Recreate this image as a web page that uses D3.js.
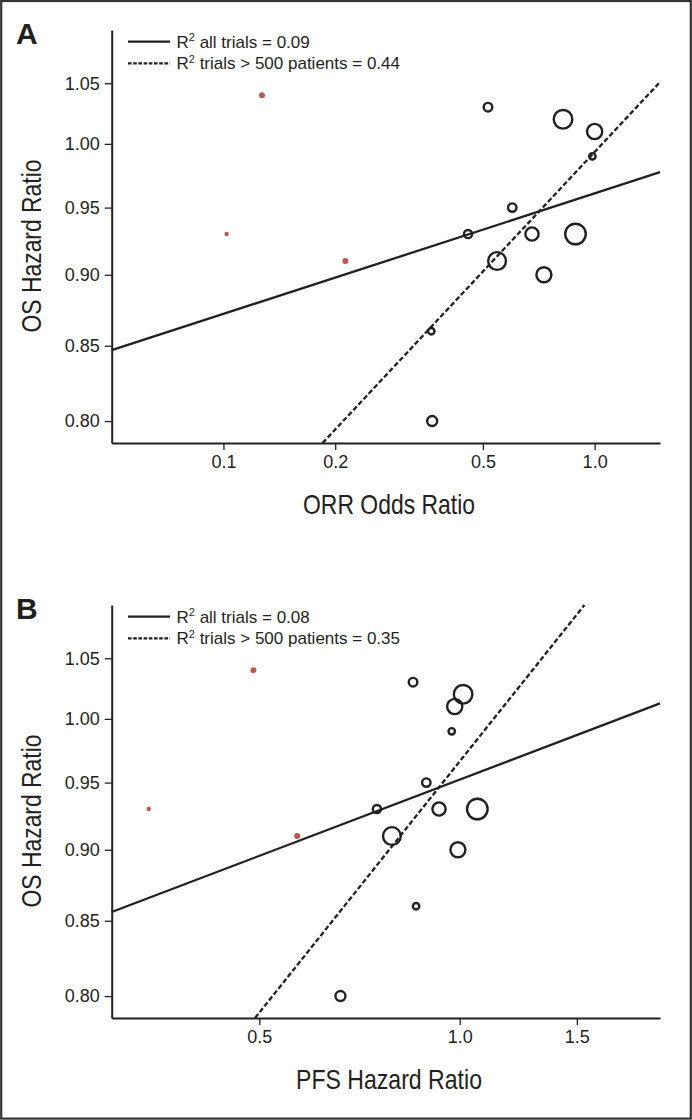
<!DOCTYPE html>
<html lang="en">
<head>
<meta charset="UTF-8">
<title>OS vs ORR / PFS</title>
<script src="https://cdnjs.cloudflare.com/ajax/libs/d3/7.8.5/d3.min.js"></script>
<style>
  body { margin: 0; background: #fff; }
  svg { display: block; }
</style>
</head>
<body>
<svg id="chart"></svg>
<script>
// trials > 500 patients (open circles)
var osHR     = [1.03, 1.02, 1.01, 0.99, 0.95, 0.93, 0.93, 0.93, 0.91, 0.90, 0.86, 0.80]
var orrOR    = [0.516, 0.822, 1.00, 0.986, 0.600, 0.456, 0.678, 0.888, 0.546, 0.730, 0.363, 0.365]
var pfsHR    = [0.851, 1.012, 0.983, 0.973, 0.891, 0.751, 0.931, 1.063, 0.791, 0.994, 0.860, 0.662]
var patients = [990, 4650, 3100, 550, 950, 900, 2340, 5700, 4250, 3020, 550, 1340]

// smaller trials (filled red)
var smallOS       = [1.04, 0.93, 0.91]
var smallORR      = [0.127, 0.102, 0.213]
var smallPFS      = [0.490, 0.341, 0.570]
var smallPatients = [480, 260, 480]

// regression lines, end points in data units [x, OS HR]
var fitAllA   = [[0.05, 0.847], [1.5, 0.9775]]
var fitLargeA = [[0.185, 0.786], [1.5, 1.051]]
var fitAllB   = [[0.3, 0.856], [2.0, 1.0125]]
var fitLargeB = [[0.4926, 0.786], [1.54, 1.096]]

var xTicksA = [0.1, 0.2, 0.5, 1.0]
var xTicksB = [0.5, 1.0, 1.5]
var yTicks  = [0.80, 0.85, 0.90, 0.95, 1.00, 1.05]

var W = 692, H = 1120
var ink = "#231f20", red = "#b85a4e"
var tickFont = "'Liberation Sans', Arial, sans-serif"

var svg = d3.select("#chart").attr("width", W).attr("height", H)

svg.append("rect")
  .attr("x", 1.2).attr("y", 1).attr("width", W - 2.4).attr("height", H - 2.4)
  .attr("fill", "none").attr("stroke", "#333").attr("stroke-width", 2.2)

var rScale = d3.scaleSqrt().domain([0, 6000]).range([0, 10.57])

// condensed look: squeeze a regular face to the measured width
function titleText(sel, str, width) {
  return sel.text(str)
    .attr("text-anchor", "middle")
    .attr("font-family", tickFont).attr("font-size", 28).attr("fill", ink)
    .attr("textLength", width).attr("lengthAdjust", "spacingAndGlyphs")
}

function drawPanel(p) {
  var g = svg.append("g").attr("transform", "translate(0," + p.dy + ")")
  var left = 111.7, right = 660, top = 30, bottom = 443

  var x = d3.scaleLog().domain(p.xDomain).range([left, right])
  var y = d3.scaleLog().domain([0.786, 1.096]).range([bottom, top])

  g.append("text").text(p.letter)
    .attr("x", 16).attr("y", 43.5)
    .attr("font-family", tickFont).attr("font-weight", "bold")
    .attr("font-size", 30).attr("fill", ink)

  var yAxis = g.append("g").attr("transform", "translate(" + left + ",0)")
    .call(d3.axisLeft(y).tickValues(yTicks).tickFormat(d3.format(".2f")).tickSize(7).tickSizeOuter(0))
  var xAxis = g.append("g").attr("transform", "translate(0," + bottom + ")")
    .call(d3.axisBottom(x).tickValues(p.xTicks).tickFormat(d3.format(".1f")).tickSize(7).tickSizeOuter(0))

  ;[yAxis, xAxis].forEach(function(a) {
    a.select(".domain").attr("stroke", ink).attr("stroke-width", 2)
    a.selectAll(".tick line").attr("stroke", ink).attr("stroke-width", 1.3)
    a.selectAll(".tick text").attr("font-family", tickFont).attr("font-size", 18).attr("fill", ink)
  })
  yAxis.selectAll(".tick text").attr("x", -12)
  xAxis.selectAll(".tick text").attr("y", 12)

  titleText(g.append("text"), p.xTitle, p.xTitleW)
    .attr("x", 389).attr("y", 514)

  titleText(g.append("text"), "OS Hazard Ratio", 173)
    .attr("transform", "translate(41,246) rotate(-90)")

  // legend
  var leg = g.append("g")
  var rows = [{ text: " all trials = " + p.r2All, dash: null },
              { text: " trials > 500 patients = " + p.r2Large, dash: "3.6,1.6" }]
  rows.forEach(function(r, i) {
    var ly = 41.7 + i * 21.6
    leg.append("line")
      .attr("x1", 128).attr("x2", 170).attr("y1", ly).attr("y2", ly)
      .attr("stroke", ink).attr("stroke-width", 2.3)
      .attr("stroke-dasharray", r.dash)
    var t = leg.append("text")
      .attr("x", 176.5).attr("y", ly + 6)
      .attr("font-family", tickFont).attr("font-size", 17).attr("fill", ink)
    t.append("tspan").text("R")
    t.append("tspan").text("2").attr("font-size", 11).attr("dy", -6.5)
    t.append("tspan").text(r.text).attr("dy", 6.5)
  })

  var line = d3.line().x(function(d) { return x(d[0]) }).y(function(d) { return y(d[1]) })

  g.append("path").datum(p.fitAll).attr("d", line)
    .attr("fill", "none").attr("stroke", ink).attr("stroke-width", 2.3)
  g.append("path").datum(p.fitLarge).attr("d", line)
    .attr("fill", "none").attr("stroke", ink).attr("stroke-width", 2.3)
    .attr("stroke-dasharray", "5,2.5")

  var big = osHR.map(function(v, i) { return { x: p.xs[i], y: v, n: patients[i] } })
  g.selectAll("circle.big").data(big).enter().append("circle")
    .attr("class", "big")
    .attr("cx", function(d) { return x(d.x) })
    .attr("cy", function(d) { return y(d.y) })
    .attr("r", function(d) { return rScale(d.n) })
    .attr("fill", "none").attr("stroke", ink).attr("stroke-width", 2.4)

  var small = smallOS.map(function(v, i) { return { x: p.smallXs[i], y: v, n: smallPatients[i] } })
  g.selectAll("circle.small").data(small).enter().append("circle")
    .attr("class", "small")
    .attr("cx", function(d) { return x(d.x) })
    .attr("cy", function(d) { return y(d.y) })
    .attr("r", function(d) { return rScale(d.n) })
    .attr("fill", red)
}

drawPanel({ dy: 0, letter: "A", xDomain: [0.05, 1.5], xTicks: xTicksA, xTitle: "ORR Odds Ratio", xTitleW: 172,
  xs: orrOR, smallXs: smallORR, fitAll: fitAllA, fitLarge: fitLargeA, r2All: "0.09", r2Large: "0.44" })
drawPanel({ dy: 575, letter: "B", xDomain: [0.3, 2.0], xTicks: xTicksB, xTitle: "PFS Hazard Ratio", xTitleW: 186,
  xs: pfsHR, smallXs: smallPFS, fitAll: fitAllB, fitLarge: fitLargeB, r2All: "0.08", r2Large: "0.35" })
</script>
</body>
</html>
